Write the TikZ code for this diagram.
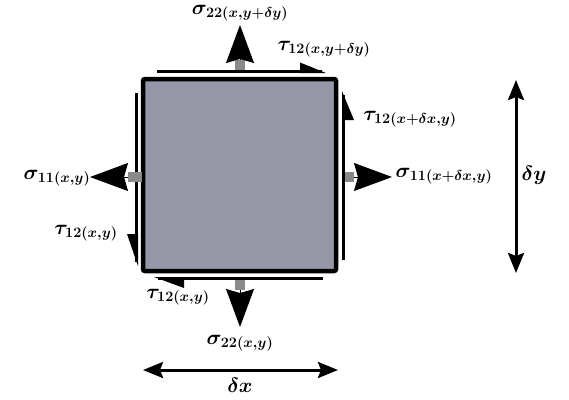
\documentclass[tikz,border=0pt]{standalone}
\usetikzlibrary{arrows.meta}
\definecolor{boxfill}{HTML}{9597A6}
\definecolor{stubgray}{HTML}{8A8A8A}
\begin{document}
\begin{tikzpicture}[x=1pt,y=-1pt,
  lbl/.style={inner sep=0pt, font=\fontsize{21}{25}\selectfont\boldmath},
  stub/.style={draw=stubgray, line width=10pt},
  bighead/.style={line width=1pt, -{Stealth[length=38pt,width=28pt,inset=4pt]}},
  shear/.style={line width=3pt},
  barb/.style={fill=black},
  dimarrow/.style={line width=3pt, {Stealth[length=20pt,width=16pt,inset=3pt]}-{Stealth[length=20pt,width=16pt,inset=3pt]}}]
\useasboundingbox (0,0) rectangle (569,399);
% element
\node[draw, fill=boxfill, line width=4.5pt, rounded corners=2pt, minimum width=193pt, minimum height=192pt, inner sep=0pt] (sq) at (239.5,175) {};
% shear lines
\coordinate (ts) at (157,71.5); \coordinate (te) at (322,71.5);
\coordinate (rs) at (343.5,260); \coordinate (re) at (343.5,95);
\coordinate (ls) at (136.5,93); \coordinate (le) at (136.5,262);
\coordinate (bs) at (323,278.5); \coordinate (be) at (158,278.5);
\draw[shear] (ts) -- (te);
\draw[shear] (rs) -- (re);
\draw[shear] (ls) -- (le);
\draw[shear] (bs) -- (be);
\fill[barb] (326,73) -- (300,62.5) -- (300,73) -- cycle;
\fill[barb] (342,91) -- (354,120) -- (342,120) -- cycle;
\fill[barb] (138,266) -- (127,234) -- (138,234) -- cycle;
\fill[barb] (154,277) -- (184,288) -- (184,277) -- cycle;
% stress arrows
\coordinate (t0) at (240,70); \coordinate (t1) at (240,60); \coordinate (t2) at (240,25);
\coordinate (b0) at (240,280); \coordinate (b1) at (240,290); \coordinate (b2) at (240,327);
\coordinate (l0) at (142,177); \coordinate (l1) at (128,177); \coordinate (l2) at (90,177);
\coordinate (r0) at (345,177); \coordinate (r1) at (354,177); \coordinate (r2) at (392,177);
\draw[stub] (t0) -- (t1); \draw[bighead] (t1) -- (t2);
\draw[stub] (b0) -- (b1); \draw[bighead] (b1) -- (b2);
\draw[stub] (l0) -- (l1); \draw[bighead] (l1) -- (l2);
\draw[stub] (r0) -- (r1); \draw[bighead] (r1) -- (r2);
% dimension arrows
\coordinate (dx0) at (143,370); \coordinate (dx1) at (338,370);
\coordinate (dy0) at (516,80); \coordinate (dy1) at (516,273);
\draw[dimarrow] (dx0) -- (dx1);
\draw[dimarrow] (dy0) -- (dy1);
% labels
\node[lbl] (s22t) at (240,13) {$\sigma_{22(x,y+\delta y)}$};
\node[lbl] (t12t) at (324,49) {$\tau_{12(x,y+\delta y)}$};
\node[lbl] (t12r) at (410,119) {$\tau_{12(x+\delta x,y)}$};
\node[lbl] (s11r) at (444,176) {$\sigma_{11(x+\delta x,y)}$};
\node[lbl] (s11l) at (57,178) {$\sigma_{11(x,y)}$};
\node[lbl] (t12l) at (86,233) {$\tau_{12(x,y)}$};
\node[lbl] (t12b) at (178,297) {$\tau_{12(x,y)}$};
\node[lbl] (s22b) at (240,343) {$\sigma_{22(x,y)}$};
\node[lbl] (dxl) at (240,385) {$\delta x$};
\node[lbl] (dyl) at (534,175) {$\delta y$};
\end{tikzpicture}
\end{document}
